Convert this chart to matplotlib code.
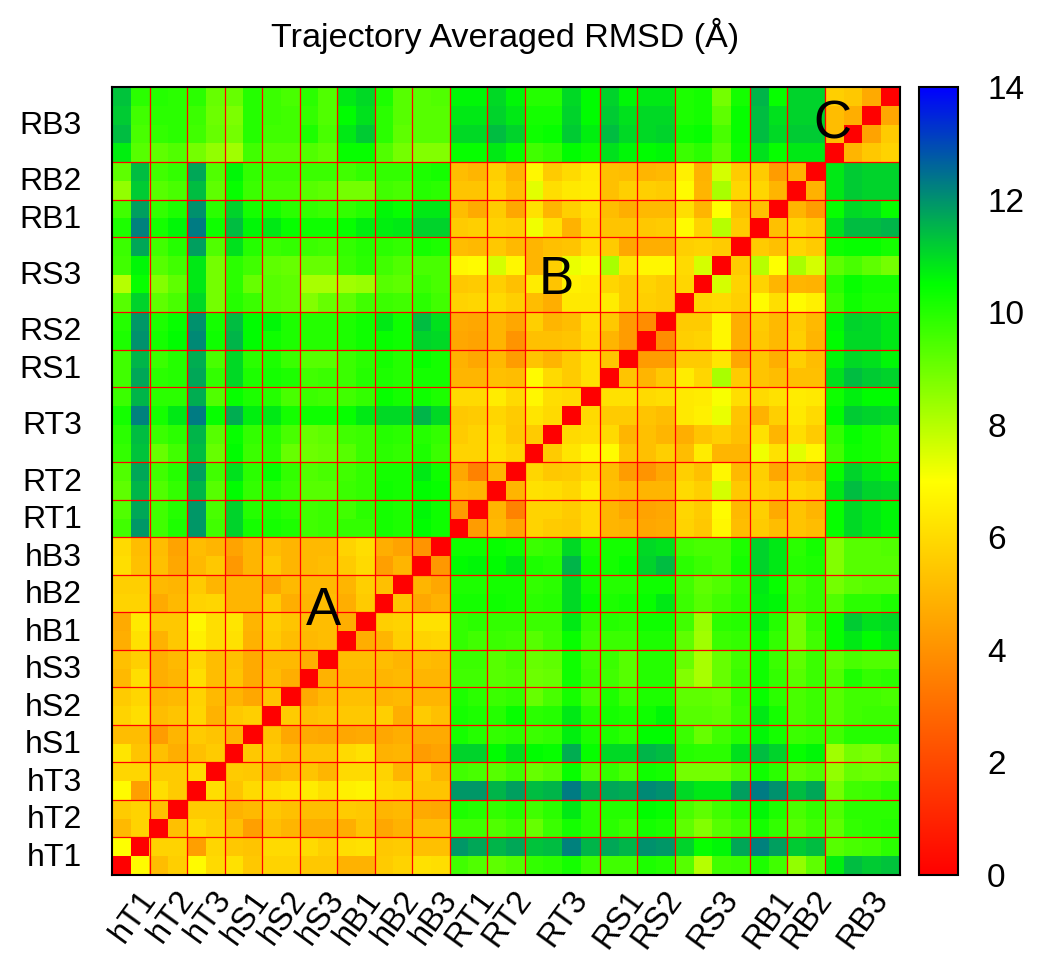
"""Trajectory averaged RMSD heatmap, gnuplot style palette."""

import numpy as np
import matplotlib
matplotlib.use("Agg")
import matplotlib.pyplot as plt
from matplotlib.colors import LinearSegmentedColormap
from matplotlib.transforms import ScaledTranslation

plt.rcParams["font.family"] = ["Liberation Sans", "DejaVu Sans"]

GROUPS = ["hT1", "hT2", "hT3", "hS1", "hS2", "hS3", "hB1", "hB2", "hB3",
          "RT1", "RT2", "RT3", "RS1", "RS2", "RS3", "RB1", "RB2", "RB3"]
GROUP_SIZES = [2, 2, 2, 2, 2, 2, 2, 2, 2, 2, 2, 4, 2, 2, 4, 2, 2, 4]
CBAR_TICKS = [0, 2, 4, 6, 8, 10, 12, 14]

# human/human block, rows from the bottom of the plot
HH = [
    [0, 6.9, 5.2, 5.7, 6.9, 6.0, 6.2, 5.5, 5.8, 5.8, 5.5, 5.5, 4.9, 4.9, 5.6, 5.8, 6.2, 6.1],
    [7.0, 0, 5.8, 5.8, 4.4, 5.9, 5.5, 5.4, 6.0, 6.0, 6.0, 5.7, 6.1, 6.2, 5.5, 5.6, 5.3, 5.3],
    [5.1, 5.8, 0, 5.3, 6.0, 5.7, 5.3, 4.4, 5.3, 5.0, 4.8, 4.8, 4.8, 5.4, 4.6, 4.9, 5.2, 5.2],
    [5.6, 5.8, 5.3, 0, 5.6, 5.6, 4.9, 5.1, 5.5, 5.3, 5.2, 5.2, 5.6, 5.5, 5.0, 5.1, 4.7, 4.6],
    [6.9, 4.4, 6.1, 5.6, 0, 6.1, 5.4, 6.0, 6.1, 6.3, 6.5, 6.1, 6.6, 6.7, 6.0, 5.9, 5.4, 5.4],
    [5.9, 5.9, 5.6, 5.6, 6.0, 0, 5.6, 5.5, 4.9, 5.2, 5.4, 5.0, 6.0, 6.0, 5.8, 5.0, 5.6, 5.0],
    [6.3, 5.4, 5.3, 4.8, 5.3, 5.6, 0, 5.5, 5.6, 5.2, 5.4, 5.4, 6.0, 6.2, 4.9, 5.0, 4.3, 4.5],
    [5.2, 5.2, 4.3, 5.0, 5.6, 5.4, 5.0, 0, 5.4, 4.6, 4.7, 4.6, 4.6, 4.7, 4.6, 4.8, 4.7, 4.7],
    [5.8, 6.1, 5.2, 5.4, 5.9, 4.9, 5.5, 5.7, 0, 5.6, 5.3, 5.4, 5.5, 5.5, 5.7, 4.8, 5.6, 5.3],
    [5.6, 5.9, 5.0, 5.1, 5.8, 5.1, 5.0, 4.6, 5.4, 0, 4.7, 5.1, 5.3, 5.3, 5.0, 5.1, 5.0, 5.0],
    [5.1, 6.1, 4.8, 5.0, 6.1, 5.2, 5.4, 4.7, 5.2, 4.8, 0, 4.9, 5.1, 5.1, 5.0, 5.1, 5.0, 5.0],
    [5.3, 5.7, 4.8, 5.1, 5.9, 5.2, 5.3, 4.7, 5.1, 5.1, 4.8, 0, 5.2, 5.2, 5.2, 5.0, 5.2, 5.1],
    [4.8, 6.2, 4.9, 5.5, 6.6, 6.1, 6.2, 4.9, 5.6, 5.2, 5.1, 5.2, 0, 4.8, 5.0, 5.7, 5.8, 5.9],
    [4.7, 6.4, 5.5, 5.5, 6.8, 6.1, 6.3, 5.0, 5.7, 5.4, 5.2, 5.2, 4.8, 0, 5.7, 5.8, 6.2, 6.2],
    [5.8, 5.8, 4.7, 5.1, 5.8, 5.9, 5.0, 5.0, 5.6, 4.8, 5.0, 5.2, 4.8, 5.6, 0, 5.4, 4.6, 4.9],
    [5.7, 5.7, 5.1, 5.0, 5.6, 5.0, 5.0, 5.0, 4.6, 5.1, 5.1, 5.1, 5.0, 5.7, 5.3, 0, 5.0, 4.6],
    [6.1, 5.3, 5.3, 4.6, 5.1, 5.5, 4.2, 5.0, 5.5, 5.0, 5.1, 5.2, 5.6, 6.0, 4.4, 5.0, 0, 4.2],
    [6.0, 5.2, 5.2, 4.5, 5.2, 5.0, 4.5, 5.0, 5.2, 5.0, 5.1, 5.1, 5.8, 6.1, 4.8, 4.5, 4.1, 0],
]

# human rows against the 24 R columns
HR = [
    [9.6, 9.4, 9.2, 9.4, 9.8, 9.9, 10.2, 9.7, 9.6, 9.6, 10.1, 10.0, 9.3, 8.0, 9.6, 9.7, 10.1, 9.6, 8.5, 9.2, 10.7, 11.4, 11.2, 11.3],
    [11.9, 11.7, 11.5, 11.7, 11.3, 11.4, 12.2, 11.5, 11.7, 11.5, 12.0, 11.9, 11.1, 10.4, 10.6, 11.7, 12.2, 11.8, 11.2, 11.4, 9.3, 9.5, 9.6, 9.9],
    [9.6, 9.6, 9.4, 9.6, 9.1, 9.7, 10.2, 9.9, 9.9, 9.7, 10.2, 10.1, 9.2, 8.7, 9.3, 9.6, 10.2, 9.8, 9.3, 9.6, 9.2, 9.8, 9.9, 10.0],
    [10.1, 10.0, 9.8, 10.0, 9.6, 9.9, 10.8, 9.9, 10.0, 10.0, 10.5, 10.4, 9.5, 9.2, 9.6, 10.0, 10.6, 10.1, 9.5, 9.8, 9.4, 9.9, 9.9, 9.9],
    [11.9, 11.9, 11.5, 11.8, 11.4, 11.5, 12.3, 11.6, 11.7, 11.6, 12.1, 12.0, 11.0, 10.8, 10.8, 11.8, 12.3, 12.0, 11.4, 11.7, 8.9, 9.6, 9.7, 9.9],
    [9.6, 9.5, 9.3, 9.6, 9.1, 9.3, 10.4, 9.4, 9.8, 9.5, 10.3, 10.2, 8.9, 8.9, 8.9, 9.4, 10.3, 9.9, 9.2, 9.4, 8.5, 9.1, 9.0, 9.1],
    [11.1, 11.1, 10.5, 10.9, 10.5, 10.4, 11.6, 10.4, 11.0, 11.0, 11.5, 11.4, 10.0, 9.9, 9.9, 10.9, 11.4, 11.1, 10.4, 10.6, 8.3, 8.9, 8.8, 9.1],
    [10.2, 10.0, 9.8, 9.9, 9.7, 9.8, 10.7, 10.1, 10.1, 9.9, 10.5, 10.5, 9.7, 9.1, 9.6, 10.0, 10.6, 10.2, 9.7, 9.8, 9.6, 10.0, 10.0, 10.0],
    [10.2, 10.1, 10.0, 10.4, 9.9, 10.0, 10.8, 10.0, 10.2, 10.1, 10.3, 10.6, 9.3, 9.3, 9.2, 9.7, 10.8, 10.2, 9.5, 9.7, 9.3, 9.6, 9.7, 9.7],
    [10.1, 9.9, 9.7, 9.8, 9.1, 9.5, 10.2, 9.5, 10.1, 9.7, 10.1, 10.1, 9.2, 9.2, 9.1, 9.8, 10.4, 9.9, 9.5, 9.7, 9.3, 9.6, 9.6, 9.5],
    [9.6, 9.6, 9.3, 9.4, 9.0, 9.1, 10.3, 9.7, 9.6, 9.3, 10.0, 10.0, 8.7, 8.2, 9.1, 9.7, 10.3, 9.8, 9.3, 9.7, 9.4, 10.1, 9.8, 9.9],
    [9.7, 9.7, 9.3, 9.5, 9.1, 9.2, 10.3, 9.6, 9.7, 9.3, 10.0, 10.0, 9.1, 8.2, 9.1, 9.6, 10.3, 9.7, 9.2, 9.7, 9.2, 9.5, 9.4, 9.4],
    [9.8, 9.6, 9.7, 9.6, 9.3, 9.6, 10.4, 9.6, 9.7, 9.7, 10.1, 10.1, 9.2, 8.3, 9.7, 9.8, 10.4, 9.8, 8.9, 9.6, 10.4, 10.8, 10.5, 10.8],
    [9.8, 9.9, 9.8, 9.8, 9.7, 9.7, 10.8, 9.8, 10.0, 9.9, 10.3, 10.3, 9.6, 8.4, 9.9, 10.0, 10.7, 10.0, 8.9, 9.8, 10.4, 11.2, 10.9, 11.0],
    [10.2, 10.2, 10.3, 10.2, 9.9, 10.0, 11.0, 10.4, 10.1, 10.2, 10.4, 10.8, 9.7, 9.3, 9.6, 9.9, 10.7, 10.6, 9.6, 9.8, 9.4, 9.9, 9.9, 10.1],
    [10.1, 10.1, 10.2, 10.2, 9.8, 9.9, 11.0, 10.2, 10.0, 10.0, 10.3, 10.3, 9.6, 9.2, 9.4, 9.8, 10.8, 10.4, 9.5, 9.8, 8.9, 9.2, 9.3, 9.3],
    [10.5, 10.6, 10.5, 10.8, 10.1, 10.0, 11.5, 10.3, 10.2, 10.4, 11.1, 11.4, 9.9, 9.7, 9.5, 10.2, 11.1, 10.8, 10.0, 10.1, 8.7, 9.3, 9.3, 9.3],
    [10.3, 10.3, 10.4, 10.3, 9.7, 9.8, 11.0, 10.1, 10.2, 10.2, 11.0, 10.9, 9.6, 9.5, 9.5, 10.1, 11.1, 10.8, 9.9, 10.2, 8.7, 9.3, 9.3, 9.4],
]

# RT/RS/RB1-2 block, upper triangle only (each row starts right of the diagonal)
RR_UPPER = [
    [4.3, 5.1, 4.6, 5.8, 5.6, 5.5, 6.0, 5.0, 4.9, 4.6, 4.7, 5.8, 5.5, 6.8, 5.2, 5.6, 5.2, 5.4, 5.2],
    [5.0, 3.6, 5.8, 5.8, 5.6, 6.0, 5.0, 4.6, 4.5, 4.6, 5.9, 5.6, 6.9, 5.1, 5.7, 4.7, 5.4, 5.0],
    [5.0, 6.2, 6.1, 5.9, 6.5, 5.3, 5.1, 5.0, 5.0, 6.0, 5.7, 7.6, 5.5, 5.8, 5.6, 5.9, 5.7],
    [5.9, 5.5, 5.6, 6.0, 5.2, 4.3, 4.1, 4.6, 5.7, 5.3, 6.8, 5.1, 5.7, 4.6, 5.3, 5.0],
    [5.6, 6.3, 6.8, 6.9, 5.4, 5.3, 5.7, 5.2, 6.5, 5.0, 5.0, 7.2, 6.2, 7.4, 6.8],
    [6.0, 6.1, 6.0, 5.0, 5.3, 5.0, 4.8, 5.4, 5.7, 5.3, 6.2, 5.0, 6.1, 5.6],
    [6.0, 5.6, 5.6, 5.4, 5.2, 6.4, 6.6, 7.3, 5.4, 4.9, 5.7, 6.4, 6.0],
    [6.2, 6.2, 6.0, 6.1, 6.4, 6.5, 7.1, 6.1, 6.0, 6.2, 6.5, 6.4],
    [5.4, 5.0, 5.5, 6.5, 5.9, 8.2, 5.6, 5.4, 5.2, 5.3, 5.3],
    [4.3, 4.3, 5.6, 5.6, 6.3, 4.6, 5.4, 4.8, 5.7, 5.2],
    [3.9, 5.7, 5.8, 6.8, 4.8, 5.5, 5.1, 5.7, 5.0],
    [5.6, 5.6, 6.8, 4.8, 5.6, 5.1, 5.6, 5.1],
    [5.9, 6.0, 5.7, 6.9, 6.1, 6.9, 6.6],
    [7.6, 5.8, 5.8, 5.0, 5.0, 4.9],
    [5.6, 8.0, 7.0, 8.2, 7.6],
    [5.6, 5.3, 5.9, 5.6],
    [5.3, 5.9, 5.6],
    [5.0, 4.3],
    [4.9],
]

# RB3 rows against the RT..RB2 columns
RB3_ROWS = [
    [10.4, 10.4, 10.8, 10.4, 9.6, 9.8, 10.5, 10.3, 10.9, 10.6, 10.5, 10.6, 9.7, 9.9, 9.2, 10.3, 10.9, 10.4, 10.8, 10.8],
    [11.0, 11.0, 11.4, 11.1, 10.3, 10.4, 11.2, 10.7, 11.4, 11.0, 11.0, 11.1, 10.3, 10.4, 9.5, 10.4, 11.4, 11.0, 11.2, 11.2],
    [10.8, 10.8, 11.1, 10.8, 10.2, 10.2, 11.1, 10.5, 11.2, 10.9, 11.0, 11.0, 10.1, 10.2, 9.2, 10.4, 11.4, 10.9, 11.1, 11.1],
    [10.6, 10.6, 11.0, 10.6, 10.0, 10.0, 11.0, 10.5, 11.1, 10.6, 10.8, 10.8, 10.1, 10.2, 8.9, 10.2, 11.5, 10.4, 11.1, 11.1],
]

# RB3 against itself
RB3_SELF = [
    [0, 5.0, 5.5, 5.8],
    [5.2, 0, 4.5, 5.6],
    [5.2, 4.8, 0, 4.6],
    [5.7, 5.5, 4.7, 0],
]


def build_matrix():
    hh = np.array(HH)
    hr = np.array(HR)
    rb = np.array(RB3_ROWS)
    n_r = 20
    rr = np.zeros((n_r, n_r))
    for i, row in enumerate(RR_UPPER):
        rr[i, i + 1:] = row
    rr = rr + rr.T
    r_part = np.block([[rr, rb.T], [rb, np.array(RB3_SELF)]])
    return np.block([[hh, hr], [hr.T, r_part]])


def main():
    mat = build_matrix()
    w, h = 1050, 963
    fig = plt.figure(figsize=(w / 100, h / 100), dpi=100)
    ax = fig.add_axes([112 / w, 1 - 875 / h, 788 / w, 788 / h])
    cax = fig.add_axes([919 / w, 1 - 875 / h, 39 / w, 788 / h])

    # same as gnuplot: set palette defined (0 red, 2 yellow, 3 green, 4 blue)
    cmap = LinearSegmentedColormap.from_list(
        "rygb", [(0, "#ff0000"), (0.5, "#ffff00"), (0.75, "#00ff00"), (1, "#0000ff")], N=512)
    im = ax.imshow(mat, origin="lower", cmap=cmap, vmin=0, vmax=14,
                   interpolation="nearest", aspect="auto",
                   extent=[0, mat.shape[1], 0, mat.shape[0]])

    edges = np.cumsum(GROUP_SIZES)
    centers = edges - np.array(GROUP_SIZES) / 2
    for e in edges[:-1]:
        ax.axvline(e, color="#ff0000", lw=0.9)
        ax.axhline(e, color="#ff0000", lw=0.9)

    ax.set_xticks(centers)
    ax.set_xticklabels(GROUPS, rotation=54, ha="right", va="top",
                       rotation_mode="anchor", fontsize=23.5)
    ax.set_yticks(centers)
    ax.set_yticklabels(GROUPS, fontsize=23)
    ax.tick_params(axis="x", length=0, pad=7)
    ax.tick_params(axis="y", length=0, pad=30 / 1.39)

    # nudge the tick labels by a few pixels
    x_shift = ScaledTranslation(7 / 100, 0, fig.dpi_scale_trans)
    y_shift = ScaledTranslation(0, 2 / 100, fig.dpi_scale_trans)
    for lab in ax.get_xticklabels():
        lab.set_transform(lab.get_transform() + x_shift)
    for lab in ax.get_yticklabels():
        lab.set_transform(lab.get_transform() + y_shift)

    for s in ax.spines.values():
        s.set_linewidth(1.5)

    cbar = fig.colorbar(im, cax=cax)
    cbar.set_ticks(CBAR_TICKS)
    cbar.ax.tick_params(length=0, labelsize=24, pad=21)
    cbar.outline.set_linewidth(1.5)

    ax.text(11.25, 14.05, "A", fontsize=38, ha="center", va="center")
    ax.text(23.7, 31.7, "B", fontsize=38, ha="center", va="center")
    ax.text(38.4, 40.0, "C", fontsize=38, ha="center", va="center")

    fig.text(505 / w, 1 - 36 / h, "Trajectory Averaged RMSD (\u00c5)",
             fontsize=24.6, ha="center", va="center")

    fig.savefig("out.png", dpi=100)
    plt.close(fig)


if __name__ == "__main__":
    main()
